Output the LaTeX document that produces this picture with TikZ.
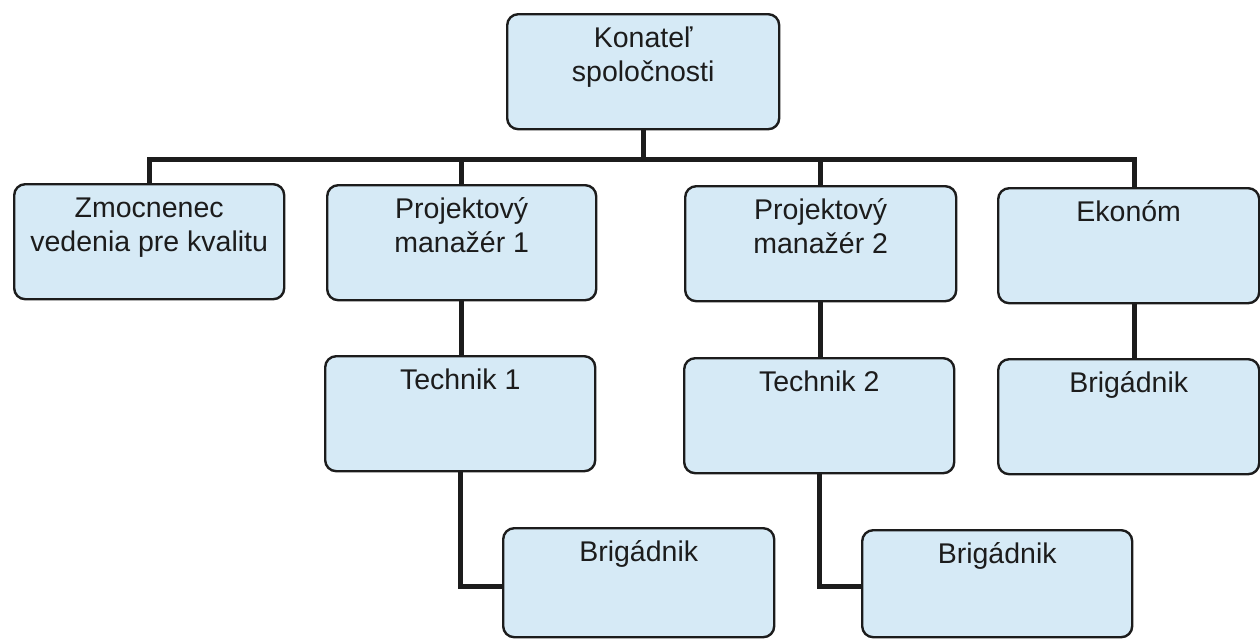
\documentclass[tikz,border=0pt]{standalone}
\usepackage{fontspec}
\setmainfont{Liberation Sans}
\definecolor{boxfill}{RGB}{214,234,246}
\definecolor{ink}{RGB}{28,28,28}
\newcommand{\boxtxt}[2]{\parbox[c][#1][t]{250pt}{\centering\fontsize{28.5pt}{34pt}\selectfont\rule{0pt}{33pt}#2}}
\begin{document}
\begin{tikzpicture}[x=1pt,y=-1pt,
  orgbox/.style={draw=ink, line width=2.4pt, fill=boxfill, rounded corners=11pt,
    inner sep=0pt, anchor=north west, text=ink},
  conn/.style={draw=ink, line width=5pt}]
\useasboundingbox (0,0) rectangle (1260,638);
\node[orgbox, minimum width=272pt, minimum height=115pt] (top) at (506,13) {\boxtxt{115pt}{Konateľ\\spoločnosti}};
\node[orgbox, minimum width=270pt, minimum height=115pt] (zm) at (13,183) {\boxtxt{115pt}{Zmocnenec\\vedenia pre kvalitu}};
\node[orgbox, minimum width=269pt, minimum height=115pt] (pm1) at (326,184) {\boxtxt{115pt}{Projektový\\manažér 1}};
\node[orgbox, minimum width=271pt, minimum height=115pt] (pm2) at (684,185) {\boxtxt{115pt}{Projektový\\manažér 2}};
\node[orgbox, minimum width=261pt, minimum height=115pt] (ek) at (997,187) {\boxtxt{115pt}{Ekonóm}};
\node[orgbox, minimum width=270pt, minimum height=115pt] (t1) at (324,355) {\boxtxt{115pt}{Technik 1}};
\node[orgbox, minimum width=270pt, minimum height=115pt] (t2) at (683,357) {\boxtxt{115pt}{Technik 2}};
\node[orgbox, minimum width=261pt, minimum height=115pt] (b3) at (997,358) {\boxtxt{115pt}{Brigádnik}};
\node[orgbox, minimum width=271pt, minimum height=109pt] (b1) at (502,527) {\boxtxt{109pt}{Brigádnik}};
\node[orgbox, minimum width=270pt, minimum height=107pt] (b2) at (861,529) {\boxtxt{107pt}{Brigádnik}};
\coordinate (bar) at (0,159);
\draw[conn] (top.south) -- (top.south |- bar);
\draw[conn] (zm.north) |- ([xshift=5.5pt]ek.north |- bar) -- ([xshift=5.5pt]ek.north);
\draw[conn] (pm1.north) -- (pm1.north |- bar);
\draw[conn] (pm2.north) -- (pm2.north |- bar);
\draw[conn] (pm1.south) -- (pm1.south |- t1.north);
\draw[conn] (pm2.south) -- (pm2.south |- t2.north);
\draw[conn] ([xshift=5.5pt]ek.south) -- ([xshift=5.5pt]ek.south |- b3.north);
\draw[conn] (t1.south) |- ([yshift=-3.5pt]b1.west);
\draw[conn] (t2.south) |- ([yshift=-2.5pt]b2.west);
\end{tikzpicture}
\end{document}
